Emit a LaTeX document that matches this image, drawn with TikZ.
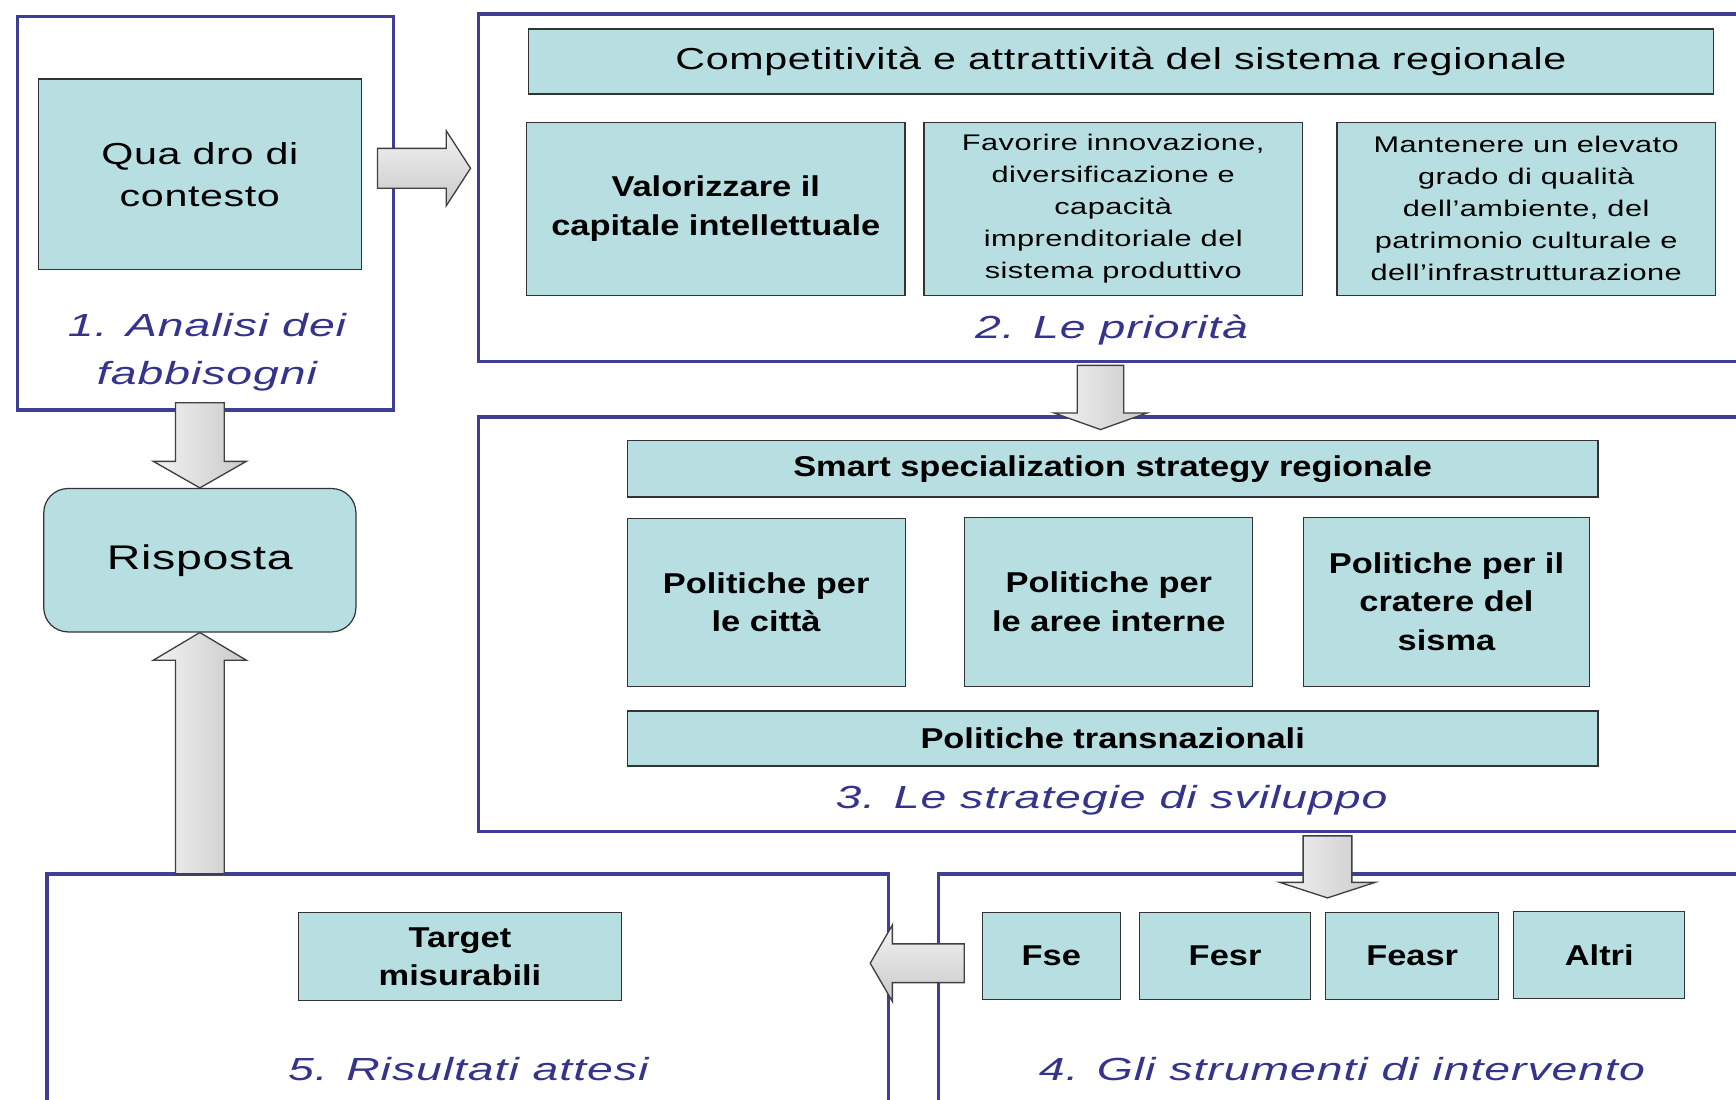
\documentclass[tikz,border=0pt]{standalone}
\usepackage{fontspec}
\setmainfont{Liberation Sans}[FakeStretch=1.36, LetterSpace=2]
\newfontfamily\bfam{Liberation Sans}[FakeStretch=1.2]
\newfontfamily\itfam{Liberation Sans}[FakeStretch=1.45, LetterSpace=3]
\definecolor{boxfill}{RGB}{183,223,226}
\definecolor{framecol}{RGB}{62,62,150}
\definecolor{labcol}{RGB}{52,52,140}
\tikzset{
  frame/.style={draw=framecol, line width=3pt, inner sep=0pt},
  cbox/.style={draw=black!80, line width=1.1pt, fill=boxfill, inner sep=0pt, align=center},
  regtxt/.style={font=\fontsize{27.5}{38}\selectfont},
  smalltxt/.style={font=\fontsize{20.5}{29}\selectfont},
  boldtxt/.style={font=\bfam\bfseries\fontsize{26}{35}\selectfont},
  labtxt/.style={text=labcol, align=center, inner sep=0pt, font=\itfam\itshape\fontsize{29}{43}\selectfont},
  vbarrow/.style={draw=black!75, line width=1.2pt, left color=gray!10, right color=gray!42},
  hbarrow/.style={draw=black!75, line width=1.2pt, top color=gray!10, bottom color=gray!42}
}
\begin{document}
\begin{tikzpicture}[x=1bp,y=-1bp]
\useasboundingbox (0,0) rectangle (1568,993);
\clip (0,0) rectangle (1568,993);
\fill[white] (0,0) rectangle (1568,993);

% frames
\node[frame, minimum width=341, minimum height=357] (f1) at (185.5,192.5) {};
\node[frame, minimum width=1170, minimum height=315] (f2) at (1015,169.5) {};
\node[frame, minimum width=1170, minimum height=376] (f3) at (1015,564) {};
\node[frame, minimum width=754, minimum height=221] (f4) at (1223,899.5) {};
\node[frame, minimum width=763, minimum height=221] (f5) at (422.5,899.5) {};

% 1. Analisi dei fabbisogni
\node[cbox, regtxt, minimum width=293, minimum height=173] (q) at (180.5,157.5) {Qua dro di\\contesto};
\node[labtxt] (l1) at (187,318) {1. Analisi dei\\fabbisogni};

% 2. Le priorita
\node[cbox, regtxt, minimum width=1075, minimum height=59] (comp) at (1012.5,55.5) {Competitività e attrattività del sistema regionale};
\node[cbox, boldtxt, minimum width=343, minimum height=157] (val) at (646.5,188.5) {Valorizzare il\\capitale intellettuale};
\node[cbox, smalltxt, minimum width=343, minimum height=157] (fav) at (1005.5,188.5) {Favorire innovazione,\\diversificazione e\\capacità\\imprenditoriale del\\sistema produttivo};
\node[cbox, smalltxt, minimum width=343, minimum height=157] (man) at (1378.5,188.5) {Mantenere un elevato\\grado di qualità\\dell'ambiente, del\\patrimonio culturale e\\dell'infrastrutturazione};
\node[labtxt] (l2) at (1004,298) {2. Le priorità};

% 3. Le strategie di sviluppo
\node[cbox, boldtxt, minimum width=880, minimum height=51] (smart) at (1005,423.5) {Smart specialization strategy regionale};
\node[cbox, boldtxt, minimum width=252, minimum height=152] (pc) at (692,544) {Politiche per\\le città};
\node[cbox, boldtxt, minimum width=261, minimum height=153] (pa) at (1001.5,543.5) {Politiche per\\le aree interne};
\node[cbox, boldtxt, minimum width=259, minimum height=153] (pcs) at (1306.5,543.5) {Politiche per il\\cratere del\\sisma};
\node[cbox, boldtxt, minimum width=880, minimum height=50] (pt) at (1005,667) {Politiche transnazionali};
\node[labtxt] (l3) at (1004,723) {3. Le strategie di sviluppo};

% 4. Gli strumenti di intervento
\node[cbox, boldtxt, minimum width=125, minimum height=79] (fse) at (949.5,863.5) {Fse};
\node[cbox, boldtxt, minimum width=155, minimum height=79] (fesr) at (1106.5,863.5) {Fesr};
\node[cbox, boldtxt, minimum width=157, minimum height=79] (feasr) at (1275.5,863.5) {Feasr};
\node[cbox, boldtxt, minimum width=155, minimum height=79] (altri) at (1444.5,862.5) {Altri};
\node[labtxt] (l4) at (1212,966) {4. Gli strumenti di intervento};

% 5. Risultati attesi
\node[cbox, boldtxt, minimum width=293, minimum height=80] (target) at (415.5,864) {Target\\misurabili};
\node[labtxt] (l5) at (423,966) {5. Risultati attesi};

% Risposta
\node[cbox, rounded corners=22, font=\fontsize{31}{36}\selectfont, minimum width=283, minimum height=130] (risp) at (180.5,506) {Risposta};

% block arrows (tips as named coordinates)
\coordinate (t1) at (425,152);
\coordinate (t2) at (994,388);
\coordinate (t3) at (1199,811);
\coordinate (t4) at (786,870);
\coordinate (t5) at (risp.north);
\coordinate (t6) at (risp.south);

% Quadro -> priorita (right)
\draw[hbarrow, shift={(t1)}] (0,0) -- (-22,-34) -- (-22,-18) -- (-84,-18) -- (-84,18) -- (-22,18) -- (-22,34) -- cycle;
% priorita -> strategie (down)
\draw[vbarrow, shift={(t2)}] (0,0) -- (-42,-15) -- (-21,-15) -- (-21,-58) -- (21,-58) -- (21,-15) -- (42,-15) -- cycle;
% strategie -> strumenti (down)
\draw[vbarrow, shift={(t3)}] (0,0) -- (-43,-14) -- (-22,-14) -- (-22,-56) -- (22,-56) -- (22,-14) -- (43,-14) -- cycle;
% strumenti -> risultati (left)
\draw[hbarrow, shift={(t4)}] (0,0) -- (20,-34.5) -- (20,-17.5) -- (85,-17.5) -- (85,17.5) -- (20,17.5) -- (20,34.5) -- cycle;
% analisi -> risposta (down)
\draw[vbarrow, shift={(t5)}] (0,0) -- (-42,-24) -- (-22,-24) -- (-22,-77) -- (22,-77) -- (22,-24) -- (42,-24) -- cycle;
% risultati -> risposta (up)
\draw[vbarrow, shift={(t6)}] (0,0) -- (-42,25) -- (-22,25) -- (-22,218) -- (22,218) -- (22,25) -- (42,25) -- cycle;
\end{tikzpicture}
\end{document}
